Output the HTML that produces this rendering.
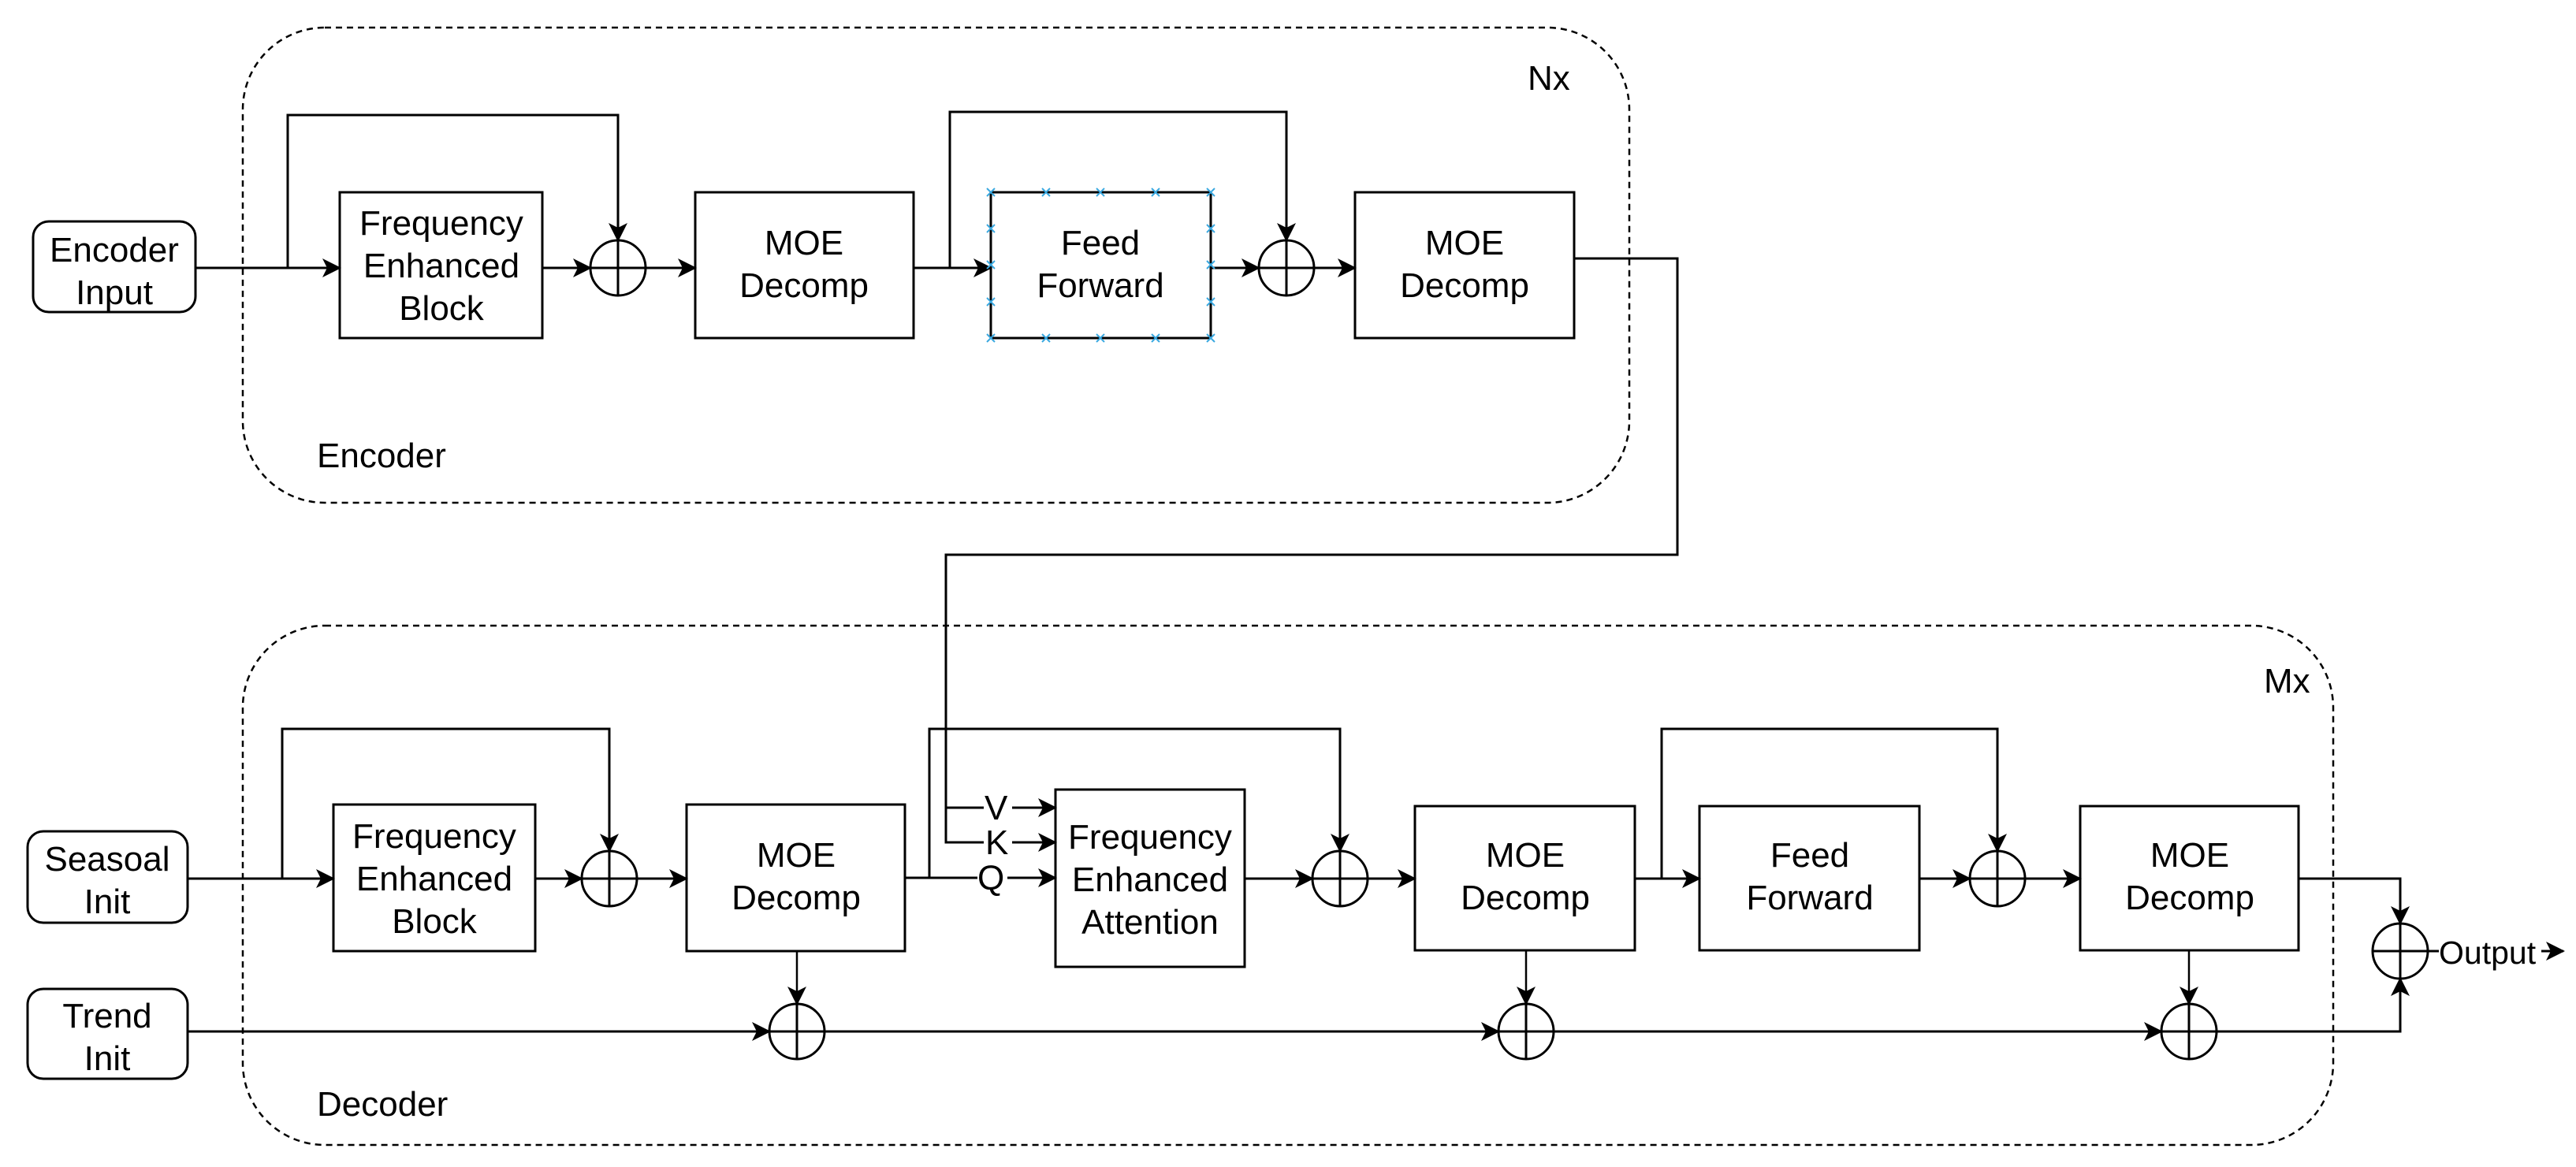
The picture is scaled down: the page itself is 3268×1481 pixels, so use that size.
<!DOCTYPE html>
<html><head><meta charset="utf-8"><style>
html,body{margin:0;padding:0;background:#fff;}
svg{display:block;}
text{font-family:"Liberation Sans",sans-serif;font-size:44px;fill:#000;}
</style></head><body>
<svg width="3268" height="1481" viewBox="0 0 3268 1481" xmlns="http://www.w3.org/2000/svg">
<defs>
<marker id="a" markerWidth="24" markerHeight="24" refX="22" refY="12" orient="auto" markerUnits="userSpaceOnUse">
<path d="M0,0 L24,12 L0,24 L6,12 Z" fill="#000"/>
</marker>
</defs>
<g fill="none" stroke="#000" stroke-width="3">
<rect x="308" y="35" width="1759" height="603" rx="104" stroke-dasharray="8,6" stroke-width="2.5"/>
<rect x="308" y="794" width="2652" height="659" rx="104" stroke-dasharray="8,6" stroke-width="2.5"/>
<rect x="42" y="281" width="206" height="115" rx="20"/>
<rect x="431" y="244" width="257" height="185"/>
<rect x="882" y="244" width="277" height="185"/>
<rect x="1257" y="244" width="279" height="185"/>
<rect x="1719" y="244" width="278" height="185"/>
<circle cx="784" cy="340" r="35"/><line x1="749" y1="340" x2="819" y2="340"/><line x1="784" y1="305" x2="784" y2="375"/>
<circle cx="1632" cy="340" r="35"/><line x1="1597" y1="340" x2="1667" y2="340"/><line x1="1632" y1="305" x2="1632" y2="375"/>
<line x1="248" y1="340" x2="431" y2="340" marker-end="url(#a)"/>
<polyline points="365,340 365,146 784,146 784,305" marker-end="url(#a)"/>
<line x1="688" y1="340" x2="749" y2="340" marker-end="url(#a)"/>
<line x1="819" y1="340" x2="882" y2="340" marker-end="url(#a)"/>
<line x1="1159" y1="340" x2="1257" y2="340" marker-end="url(#a)"/>
<polyline points="1205,340 1205,142 1632,142 1632,305" marker-end="url(#a)"/>
<line x1="1536" y1="340" x2="1597" y2="340" marker-end="url(#a)"/>
<line x1="1667" y1="340" x2="1719" y2="340" marker-end="url(#a)"/>
<polyline points="1997,328 2128,328 2128,704 1200,704 1200,1069 1339,1069" marker-end="url(#a)"/>
<polyline points="1200,1025 1339,1025" marker-end="url(#a)"/>
<rect x="35" y="1055" width="203" height="116" rx="20"/>
<rect x="35" y="1255" width="203" height="114" rx="20"/>
<rect x="423" y="1021" width="256" height="186"/>
<rect x="871" y="1021" width="277" height="186"/>
<rect x="1339" y="1002" width="240" height="225"/>
<rect x="1795" y="1023" width="279" height="183"/>
<rect x="2156" y="1023" width="279" height="183"/>
<rect x="2639" y="1023" width="277" height="183"/>
<g>
<circle cx="773" cy="1115" r="35"/><line x1="738" y1="1115" x2="808" y2="1115"/><line x1="773" y1="1080" x2="773" y2="1150"/>
<circle cx="1700" cy="1115" r="35"/><line x1="1665" y1="1115" x2="1735" y2="1115"/><line x1="1700" y1="1080" x2="1700" y2="1150"/>
<circle cx="2534" cy="1115" r="35"/><line x1="2499" y1="1115" x2="2569" y2="1115"/><line x1="2534" y1="1080" x2="2534" y2="1150"/>
<circle cx="1011" cy="1309" r="35"/><line x1="976" y1="1309" x2="1046" y2="1309"/><line x1="1011" y1="1274" x2="1011" y2="1344"/>
<circle cx="1936" cy="1309" r="35"/><line x1="1901" y1="1309" x2="1971" y2="1309"/><line x1="1936" y1="1274" x2="1936" y2="1344"/>
<circle cx="2777" cy="1309" r="35"/><line x1="2742" y1="1309" x2="2812" y2="1309"/><line x1="2777" y1="1274" x2="2777" y2="1344"/>
<circle cx="3045" cy="1207" r="35"/><line x1="3010" y1="1207" x2="3080" y2="1207"/><line x1="3045" y1="1172" x2="3045" y2="1242"/>
</g>
<line x1="238" y1="1115" x2="423" y2="1115" marker-end="url(#a)"/>
<polyline points="358,1115 358,925 773,925 773,1080" marker-end="url(#a)"/>
<line x1="679" y1="1115" x2="738" y2="1115" marker-end="url(#a)"/>
<line x1="808" y1="1115" x2="871" y2="1115" marker-end="url(#a)"/>
<line x1="1148" y1="1114" x2="1339" y2="1114" marker-end="url(#a)"/>
<polyline points="1179,1114 1179,925 1700,925 1700,1080" marker-end="url(#a)"/>
<line x1="1579" y1="1115" x2="1665" y2="1115" marker-end="url(#a)"/>
<line x1="1735" y1="1115" x2="1795" y2="1115" marker-end="url(#a)"/>
<line x1="2074" y1="1115" x2="2156" y2="1115" marker-end="url(#a)"/>
<polyline points="2108,1115 2108,925 2534,925 2534,1080" marker-end="url(#a)"/>
<line x1="2435" y1="1115" x2="2499" y2="1115" marker-end="url(#a)"/>
<line x1="2569" y1="1115" x2="2639" y2="1115" marker-end="url(#a)"/>
<polyline points="2916,1115 3045,1115 3045,1172" marker-end="url(#a)"/>
<line x1="1011" y1="1207" x2="1011" y2="1274" stroke-width="2.5" marker-end="url(#a)"/>
<line x1="1936" y1="1206" x2="1936" y2="1274" stroke-width="2.5" marker-end="url(#a)"/>
<line x1="2777" y1="1206" x2="2777" y2="1274" stroke-width="2.5" marker-end="url(#a)"/>
<line x1="238" y1="1309" x2="976" y2="1309" marker-end="url(#a)"/>
<line x1="1046" y1="1309" x2="1901" y2="1309" marker-end="url(#a)"/>
<line x1="1971" y1="1309" x2="2742" y2="1309" marker-end="url(#a)"/>
<polyline points="2812,1309 3045,1309 3045,1242" marker-end="url(#a)"/>
<line x1="3080" y1="1207" x2="3094" y2="1207"/>
<line x1="3224" y1="1207" x2="3252" y2="1207" marker-end="url(#a)"/>
</g>
<g stroke="#3aa8e0" stroke-width="2">
<path d="M1252,239l10,10M1262,239l-10,10 M1322,239l10,10M1332,239l-10,10 M1391,239l10,10M1401,239l-10,10 M1461,239l10,10M1471,239l-10,10 M1531,239l10,10M1541,239l-10,10
M1252,424l10,10M1262,424l-10,10 M1322,424l10,10M1332,424l-10,10 M1391,424l10,10M1401,424l-10,10 M1461,424l10,10M1471,424l-10,10 M1531,424l10,10M1541,424l-10,10
M1252,285l10,10M1262,285l-10,10 M1252,331l10,10M1262,331l-10,10 M1252,378l10,10M1262,378l-10,10
M1531,285l10,10M1541,285l-10,10 M1531,331l10,10M1541,331l-10,10 M1531,378l10,10M1541,378l-10,10"/>
</g>
<g text-anchor="middle">
<text x="145" y="332">Encoder</text><text x="145" y="386">Input</text>
<text x="560" y="298">Frequency</text><text x="560" y="352">Enhanced</text><text x="560" y="406">Block</text>
<text x="1020" y="323">MOE</text><text x="1020" y="377">Decomp</text>
<text x="1396" y="323">Feed</text><text x="1396" y="377">Forward</text>
<text x="1858" y="323">MOE</text><text x="1858" y="377">Decomp</text>
<text x="136" y="1105">Seasoal</text><text x="136" y="1159">Init</text>
<text x="136" y="1304">Trend</text><text x="136" y="1358">Init</text>
<text x="551" y="1076">Frequency</text><text x="551" y="1130">Enhanced</text><text x="551" y="1184">Block</text>
<text x="1010" y="1100">MOE</text><text x="1010" y="1154">Decomp</text>
<text x="1459" y="1077">Frequency</text><text x="1459" y="1131">Enhanced</text><text x="1459" y="1185">Attention</text>
<text x="1935" y="1100">MOE</text><text x="1935" y="1154">Decomp</text>
<text x="2296" y="1100">Feed</text><text x="2296" y="1154">Forward</text>
<text x="2778" y="1100">MOE</text><text x="2778" y="1154">Decomp</text>
</g>
<g>
<rect x="1248" y="1002" width="36" height="40" fill="#fff"/><text x="1249" y="1040">V</text>
<rect x="1248" y="1048" width="36" height="40" fill="#fff"/><text x="1250" y="1084">K</text>
<rect x="1240" y="1094" width="38" height="42" fill="#fff"/><text x="1240" y="1129">Q</text>
<text x="1938" y="114">Nx</text>
<text x="2872" y="879">Mx</text>
<text x="402" y="593">Encoder</text>
<text x="402" y="1416">Decoder</text>
<text x="3094" y="1223" style="font-size:41px">Output</text>
</g>
</svg>
</body></html>
